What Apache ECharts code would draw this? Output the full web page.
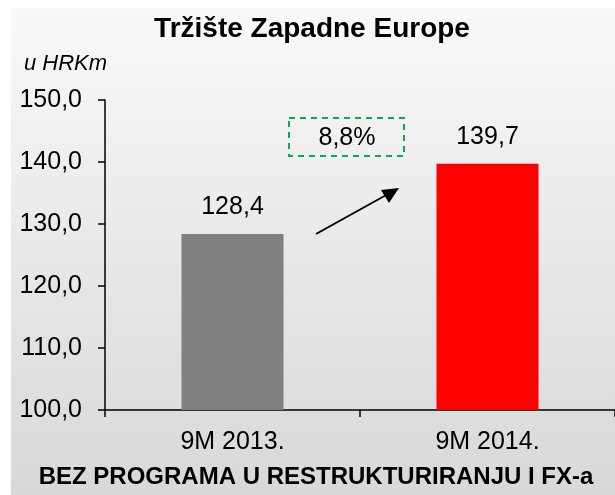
<!DOCTYPE html>
<html>
<head>
<meta charset="utf-8">
<script src="https://cdn.jsdelivr.net/npm/echarts@6/dist/echarts.min.js"></script>
<style>
  html, body { margin: 0; padding: 0; background: #fff; }
  #chart { width: 615px; height: 495px; }
</style>
</head>
<body>
<div id="chart"></div>
<script>
// Tržište Zapadne Europe
var categories = ['9M 2013.', '9M 2014.'];
var values = [128.4, 139.7];
var barColors = ['#808080', '#ff0000'];
var growthLabel = '8,8%';

var fmt = function (v) {
  return Number(v).toFixed(1).replace('.', ',');
};

var font = 'Liberation Sans, Arial, sans-serif';
var chart = echarts.init(document.getElementById('chart'));

chart.setOption({
  backgroundColor: '#ffffff',
  textStyle: { fontFamily: font },
  graphic: [
    {
      type: 'rect', z: -10, silent: true,
      shape: { x: 11, y: 8, width: 604, height: 487 },
      style: {
        fill: new echarts.graphic.LinearGradient(0, 0, 0, 1, [
          { offset: 0, color: '#f9f9f9' },
          { offset: 1, color: '#d8d8d8' }
        ])
      }
    },
    {
      // okvir s postotkom rasta
      type: 'rect', z: 10,
      shape: { x: 289, y: 118, width: 115, height: 38 },
      style: { fill: 'none', stroke: '#00b050', lineWidth: 2, lineDash: [6, 5] }
    },
    {
      type: 'text', z: 10,
      style: {
        x: 347, y: 138, text: growthLabel, fill: '#000',
        font: '25px ' + font, align: 'center', verticalAlign: 'middle'
      }
    },
    {
      // strelica
      type: 'line', z: 10,
      shape: { x1: 316, y1: 234, x2: 388, y2: 194 },
      style: { stroke: '#000', lineWidth: 2 }
    },
    {
      type: 'polygon', z: 10,
      shape: { points: [[399, 188], [381, 190], [389, 203]] },
      style: { fill: '#000' }
    }
  ],
  title: [
    {
      text: 'Tržište Zapadne Europe',
      left: 312, top: 15, textAlign: 'center', padding: 0,
      textStyle: { fontSize: 28, fontWeight: 'bold', color: '#000', fontFamily: font }
    },
    {
      text: 'u HRKm',
      left: 24, top: 53, padding: 0,
      textStyle: { fontSize: 22, fontStyle: 'italic', fontWeight: 'normal', color: '#000', fontFamily: font }
    },
    {
      text: 'BEZ PROGRAMA U RESTRUKTURIRANJU I FX-a',
      left: 316, top: 465, textAlign: 'center', padding: 0,
      textStyle: { fontSize: 24, fontWeight: 'bold', color: '#000', fontFamily: font }
    }
  ],
  grid: { left: 105, right: 0, top: 100, bottom: 85, containLabel: false },
  xAxis: {
    type: 'category',
    data: categories,
    axisLine: { lineStyle: { color: '#000', width: 1.5 } },
    axisTick: { show: true, length: 7, lineStyle: { color: '#000', width: 1.5 } },
    axisLabel: { color: '#000', fontSize: 25, margin: 20, fontFamily: font }
  },
  yAxis: {
    type: 'value',
    min: 100, max: 150, interval: 10,
    axisLine: { show: true, lineStyle: { color: '#000', width: 1.5 } },
    axisTick: { show: true, length: 7, lineStyle: { color: '#000', width: 1.5 } },
    splitLine: { show: false },
    axisLabel: { color: '#000', fontSize: 25, margin: 23, fontFamily: font, formatter: fmt }
  },
  series: [
    {
      name: 'Zapadna Europa',
      type: 'bar',
      barWidth: '40%',
      data: values.map(function (v, i) {
        return { value: v, itemStyle: { color: barColors[i] } };
      }),
      label: {
        show: true, position: 'top', distance: 14,
        color: '#000', fontSize: 25, fontFamily: font,
        formatter: function (p) { return fmt(p.value); }
      }
    }
  ]
});
</script>
</body>
</html>
